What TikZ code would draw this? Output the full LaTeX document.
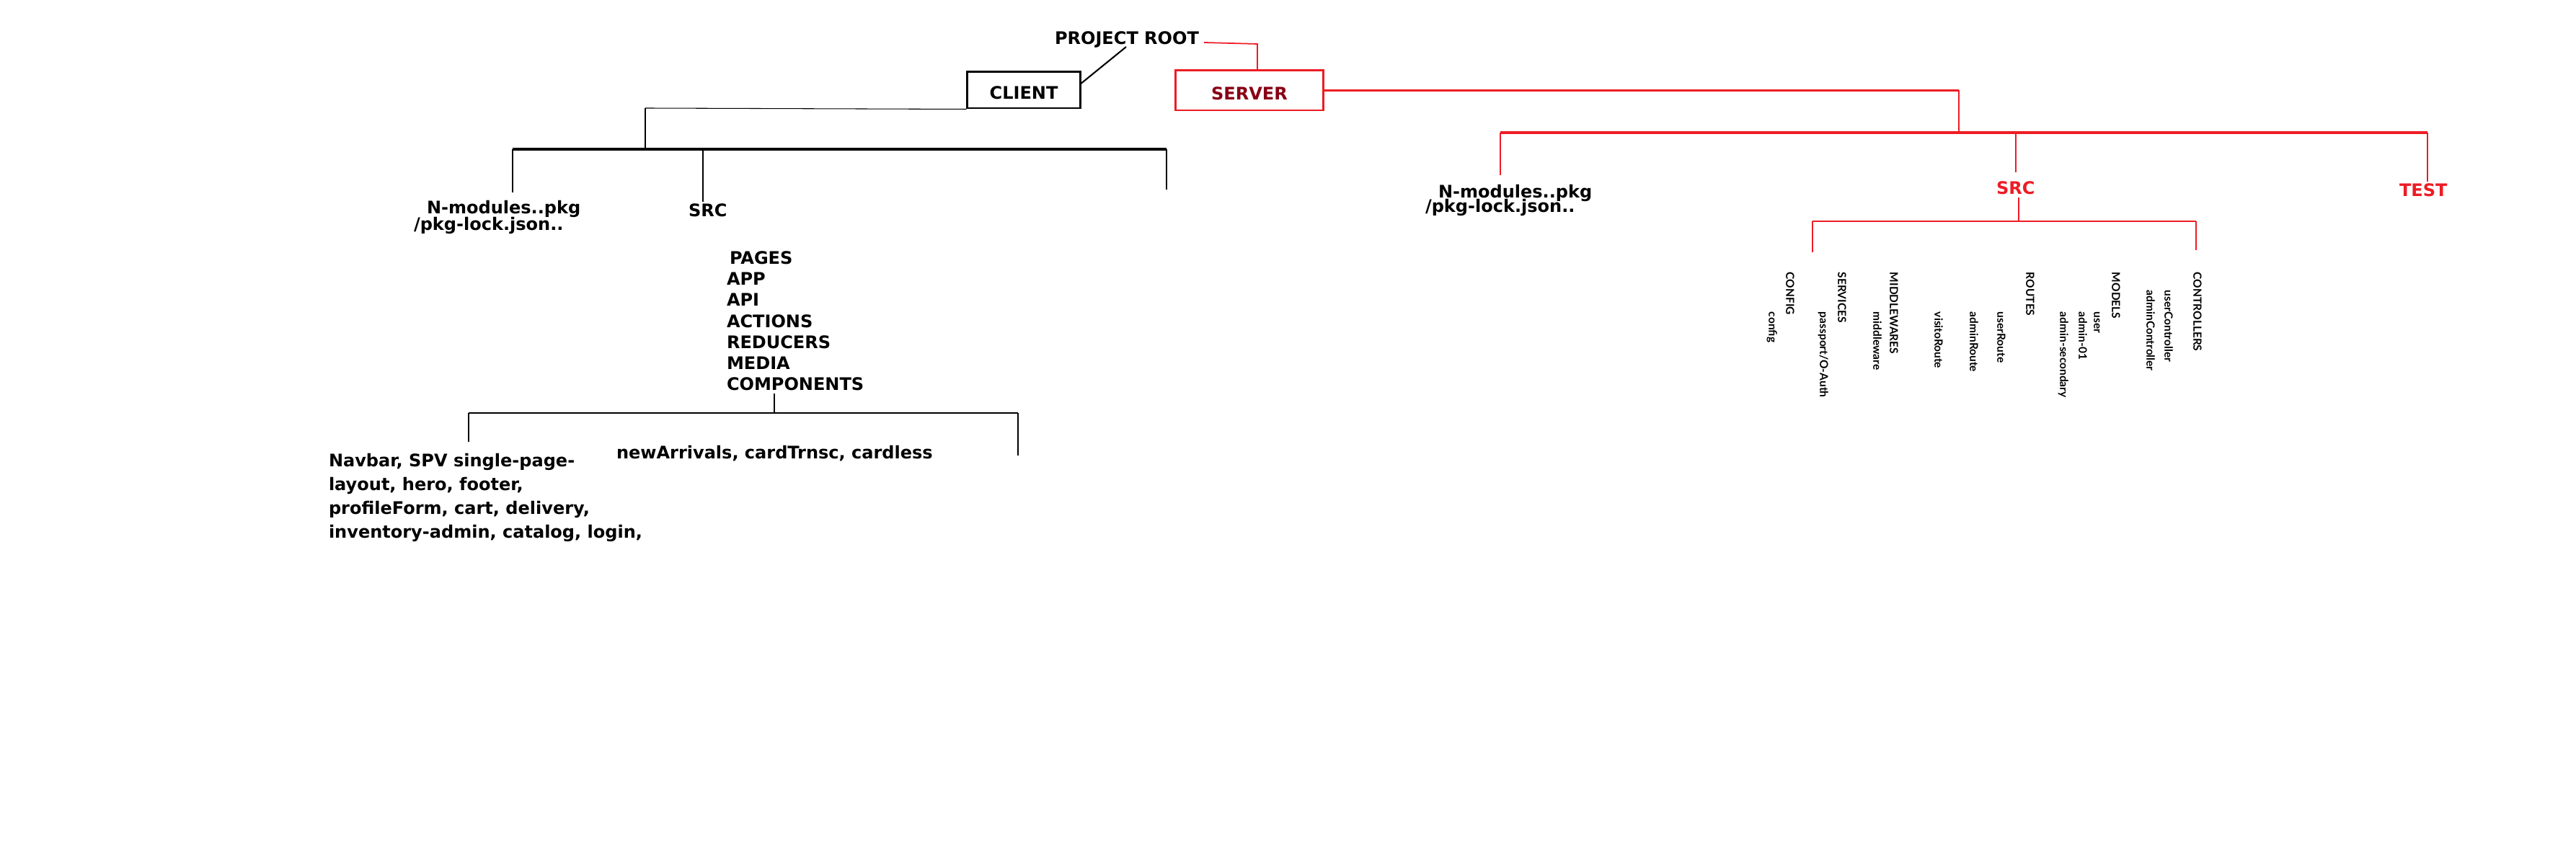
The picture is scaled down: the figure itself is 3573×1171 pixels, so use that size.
\documentclass[tikz,border=0pt]{standalone}
\usepackage{fontspec}
\newfontfamily\mainf{DejaVu Sans}
\newfontfamily\rotf{Lato}
\definecolor{pred}{HTML}{ED1C24}
\definecolor{dred}{HTML}{880015}
\begin{document}
\begin{tikzpicture}[x=0.01cm,y=-0.01cm,
  lbl/.style={font=\mainf\bfseries\fontsize{6.83}{8}\selectfont, inner sep=0pt, outer sep=0pt, anchor=base west},
  rt/.style={font=\rotf\bfseries\fontsize{4.4}{5}\selectfont, inner sep=0pt, outer sep=0pt, rotate=-90, anchor=west, text height=0.72em, text depth=0pt},
  boxb/.style={draw=black, line width=0.85pt, minimum width=1.56cm, minimum height=0.5cm, inner sep=0pt, text height=0.73em, text depth=0pt, font=\mainf\bfseries\fontsize{6.83}{8}\selectfont},
  boxr/.style={draw=pred, line width=0.85pt, minimum width=2.04cm, minimum height=0.55cm, inner sep=0pt, text height=0.73em, text depth=0pt, text=dred, font=\mainf\bfseries\fontsize{6.83}{8}\selectfont},
  thinb/.style={draw=black, line width=0.3pt},
  vb/.style={draw=black, line width=0.7pt},
  hb/.style={draw=black, line width=1.05pt},
  thinr/.style={draw=pred, line width=0.35pt},
  vr/.style={draw=pred, line width=0.7pt},
  hr/.style={draw=pred, line width=1.05pt}
]
\useasboundingbox (0,0) rectangle (3573,1171);
\fill[white] (0,0) rectangle (3573,1171);

% root and top boxes
\node[lbl] (root) at (1463,62) {PROJECT ROOT};
\node[boxb] (client) at (1420,125) {CLIENT};
\node[boxr] (server) at (1733,125.5) {SERVER};

\coordinate (bj) at (1562,65);
\coordinate (bk) at (1498,117);
\draw[black, line width=0.6pt] (bj) -- (bk);

\coordinate (rj) at (1670,59);
\coordinate (rk) at (1744,61);
\draw[thinr, line width=0.5pt] (rj) -- (rk) -- (rk |- server.north);

% ---------------- client tree
\coordinate (c1) at (895,150);
\coordinate (c2) at (895,207);
\coordinate (cl) at (711,207);
\coordinate (cr) at (1618,207);
\coordinate (cs) at (975,207);
\coordinate (cse) at (975,280);
\draw[thinb] (client.south west) -- (c1);
\draw[vb] (c1) -- (c2);
\draw[hb] (cl) -- (cr);

\node[lbl] (cnm) at (592,297) {N-modules..pkg};
\node[lbl] (cpl) at (574,320) {/pkg-lock.json..};
\node[lbl] (csrc) at (955,301) {SRC};

\draw[vb] (cl) -- (cl |- 0,267);
\draw[vb] (cs) -- (cse);
\draw[vb] (cr) -- (cr |- 0,263);

\node[lbl, anchor=base west, align=left, font=\mainf\bfseries\fontsize{6.83}{8.33}\selectfont] (list) at (1008,542)
  {\,PAGES\\APP\\API\\ACTIONS\\REDUCERS\\MEDIA\\COMPONENTS};

\coordinate (l1) at (1074,546);
\coordinate (l2) at (1074,573);
\coordinate (ll) at (650,573);
\coordinate (lr) at (1412,573);
\draw[vb] (l1) -- (l2);
\draw[thinb, line width=0.45pt] (ll) -- (lr);
\draw[thinb, line width=0.45pt] (ll) -- (ll |- 0,613);
\draw[thinb, line width=0.45pt] (lr) -- (lr |- 0,632);

\node[lbl, anchor=base west, align=left, font=\mainf\bfseries\fontsize{6.83}{9.45}\selectfont] (comp) at (456,747)
  {Navbar, SPV single-page-\\layout, hero, footer,\\profileForm, cart, delivery,\\inventory-admin, catalog, login,};
\node[lbl] (media) at (855,637) {newArrivals, cardTrnsc, cardless};

% ---------------- server tree
\coordinate (s1) at (2717,125.5);
\coordinate (s2) at (2717,184);
\coordinate (sl) at (2081,184);
\coordinate (sr) at (3367,184);
\coordinate (ss) at (2796,184);
\draw[hr] (server.east) -- (s1);
\draw[thinr, line width=0.5pt] (s1) -- (s2);
\draw[hr] (sl) -- (sr);

\node[lbl] (snm) at (1995,275) {N-modules..pkg};
\node[lbl] (spl) at (1977,295) {/pkg-lock.json..};
\node[lbl, text=pred] (ssrc) at (2769,270) {SRC};
\node[lbl, text=pred] (stest) at (3328,273) {TEST};

\draw[vr] (sl) -- (sl |- 0,243);
\draw[vr] (ss) -- (ss |- 0,239);
\draw[vr] (sr) -- (sr |- 0,252);

\coordinate (t1) at (2800,274);
\coordinate (t2) at (2800,307);
\coordinate (tl) at (2514,307);
\coordinate (tr) at (3046,307);
\draw[thinr] (t1) -- (t2);
\draw[thinr] (tl) -- (tr);
\draw[thinr] (tl) -- (tl |- 0,350);
\draw[thinr] (tr) -- (tr |- 0,347);

% rotated sub folders
\node[rt] (config) at (2490,378) {CONFIG};
\node[rt] (configf) at (2466,433) {config};
\node[rt] (services) at (2562,378) {SERVICES};
\node[rt] (passport) at (2537,433) {passport/O-Auth};
\node[rt] (middlewares) at (2634,378) {MIDDLEWARES};
\node[rt] (middleware) at (2611,433) {middleware};
\node[rt] (visito) at (2696,433) {visitoRoute};
\node[rt] (adminr) at (2745,433) {adminRoute};
\node[rt] (userr) at (2783,433) {userRoute};
\node[rt] (routes) at (2823,378) {ROUTES};
\node[rt] (admsec) at (2870,433) {admin-secondary};
\node[rt] (adm01) at (2896,433) {admin-01};
\node[rt] (user) at (2917,433) {user};
\node[rt] (models) at (2942,378) {MODELS};
\node[rt] (adminc) at (2990,403) {adminController};
\node[rt] (userc) at (3015,403) {userController};
\node[rt] (controllers) at (3055,378) {CONTROLLERS};
\end{tikzpicture}
\end{document}
